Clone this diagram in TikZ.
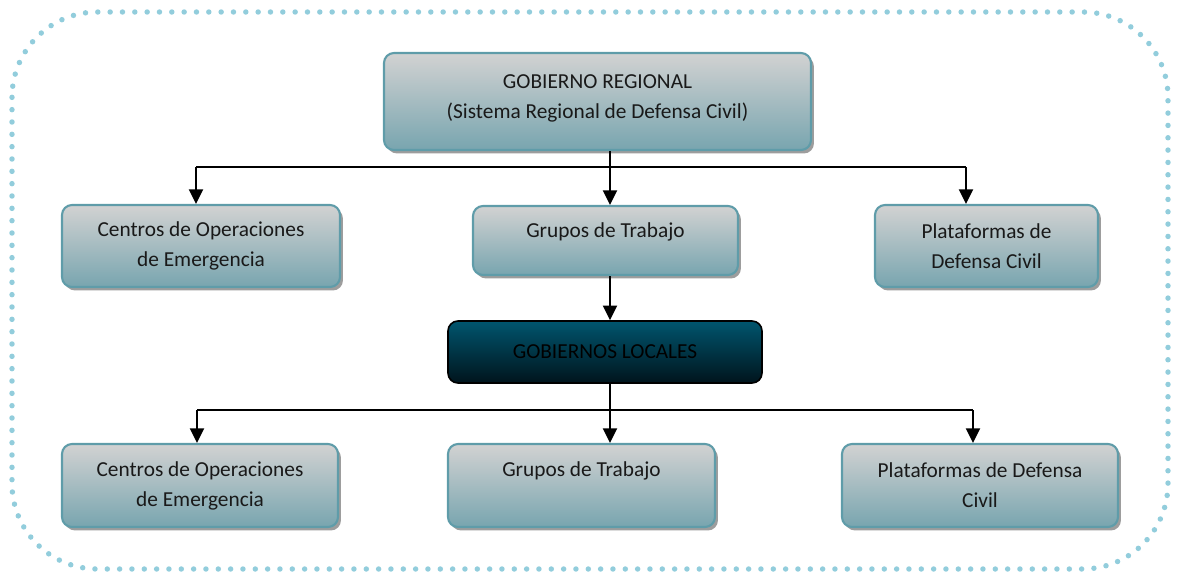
\documentclass[tikz,border=0pt]{standalone}
\usepackage{fontspec}
\setmainfont{Carlito}
\usetikzlibrary{arrows.meta,shadows}
\def\px{0.75pt}
\newcommand\liftup[2]{\raisebox{#1}[\height][\depth]{#2}}
\definecolor{dotblue}{HTML}{92CDDC}
\definecolor{boxtop}{HTML}{D2D2D2}
\definecolor{boxbot}{HTML}{78A5AF}
\definecolor{boxline}{HTML}{5F9CA9}
\definecolor{gltop}{HTML}{00556E}
\definecolor{glbot}{HTML}{00141C}
\tikzset{
  lbox/.style={draw=boxline, line width=1.6pt, rounded corners=7.5pt,
    top color=boxtop, bottom color=boxbot, align=center,
    font=\fontsize{16}{22.5}\selectfont, text=black!90, inner sep=0pt,
    drop shadow={shadow xshift=2.2pt, shadow yshift=-2.6pt, fill=black!45, opacity=0.85}},
  dbox/.style={draw=black, line width=1.2pt, rounded corners=7.5pt,
    top color=gltop, bottom color=glbot, align=center,
    font=\fontsize{16}{22.5}\selectfont, text=black, inner sep=0pt},
  conn/.style={line width=1.5pt, black},
  arr/.style={conn, -{Triangle[width=10.5pt,length=11pt]}},
  frame/.style={dotblue, line width=4.1pt, line cap=round,
    dash pattern=on 0pt off 9.25pt, rounded corners=64pt}
}
\begin{document}
\begin{tikzpicture}[x=\px, y=-\px]
\useasboundingbox (0,0) rectangle (1179,579);
\draw[frame] (12,12) rectangle (1168,569);

\node[lbox, minimum width=427*\px, minimum height=97*\px] (GR) at (597.5,101.5)
  {\liftup{3pt}{\begin{tabular}{@{}c@{}}GOBIERNO REGIONAL\\(Sistema Regional de Defensa Civil)\end{tabular}}};
\node[lbox, minimum width=278*\px, minimum height=82*\px] (C1) at (201,246)
  {Centros de Operaciones\\de Emergencia};
\node[lbox, minimum width=265*\px, minimum height=69*\px] (GT) at (605.5,240.5)
  {\liftup{6.4pt}{Grupos de Trabajo}};
\node[lbox, minimum width=223*\px, minimum height=82*\px] (P1) at (986.5,246)
  {Plataformas de\\Defensa Civil};
\node[dbox, minimum width=314*\px, minimum height=62*\px] (GL) at (605,352)
  {GOBIERNOS LOCALES};
\node[lbox, minimum width=276*\px, minimum height=83*\px] (C2) at (200,485.5)
  {Centros de Operaciones\\de Emergencia};
\node[lbox, minimum width=267*\px, minimum height=83*\px] (GB) at (581.5,485.5)
  {\liftup{10.9pt}{Grupos de Trabajo}};
\node[lbox, minimum width=276*\px, minimum height=83*\px] (P2) at (980,485.5)
  {Plataformas de Defensa\\Civil};

\coordinate (sp) at (610,0);
\coordinate (b1L) at (196,167);
\coordinate (b1R) at (966,167);
\coordinate (b2L) at (197,410);
\coordinate (b2R) at (973,410);

\draw[conn] (b1L) -- (b1R);
\draw[arr] (GR.south -| sp) -- (sp |- GT.north);
\draw[arr] (b1L) -- (b1L |- C1.north);
\draw[arr] (b1R) -- (b1R |- P1.north);
\draw[arr] (GT.south -| sp) -- (sp |- GL.north);
\draw[conn] (b2L) -- (b2R);
\draw[arr] (GL.south -| sp) -- (sp |- GB.north);
\draw[arr] (b2L) -- (b2L |- C2.north);
\draw[arr] (b2R) -- (b2R |- P2.north);
\end{tikzpicture}
\end{document}
